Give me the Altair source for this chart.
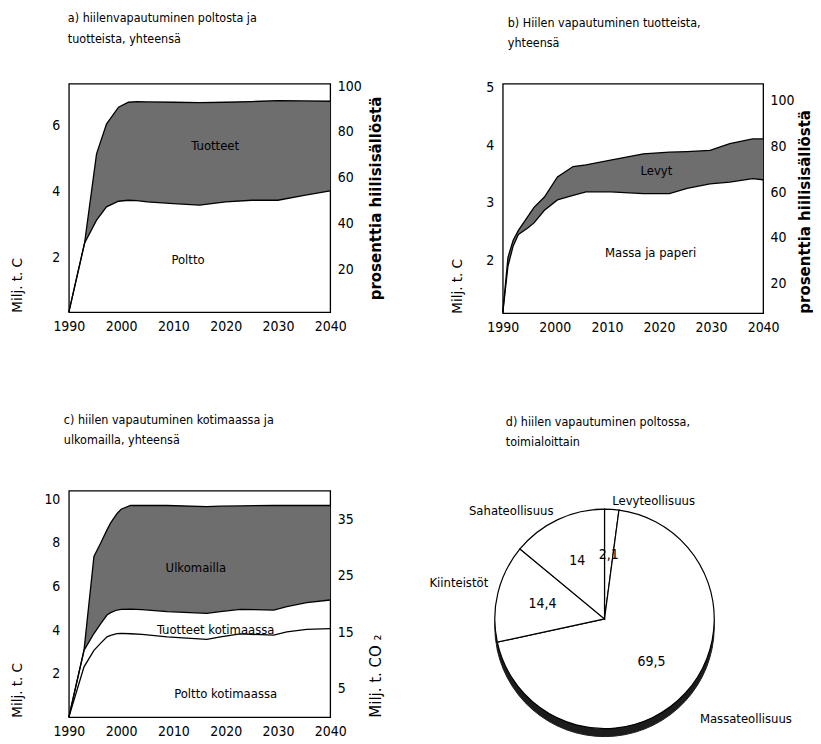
import altair as alt
import pandas as pd

FONT = "DejaVu Sans Condensed, DejaVu Sans, sans-serif"
WIDE = "DejaVu Sans, Verdana, sans-serif"
GRAY = "#6e6e6e"

# ---------------- data ----------------
# a) hiilen vapautuminen poltosta ja tuotteista (Milj. t. C)
a_years = [1990, 1993, 1995.3, 1997.2, 1999.5, 2001.4, 2003, 2005, 2010, 2015, 2020, 2025, 2030, 2035, 2040]
a_poltto = [0.35, 2.43, 3.13, 3.53, 3.70, 3.73, 3.72, 3.68, 3.63, 3.58, 3.68, 3.73, 3.73, 3.88, 4.01]
a_total = [0.35, 2.43, 5.13, 6.03, 6.54, 6.69, 6.71, 6.70, 6.69, 6.68, 6.69, 6.71, 6.74, 6.73, 6.72]

# b) hiilen vapautuminen tuotteista
b_years = [1990, 1991, 1992, 1993, 1994.8, 1996, 1998, 2000.5, 2003.5, 2006, 2010.7, 2017, 2022, 2025.4, 2029.8, 2033.6, 2038, 2040]
b_massa = [1.09, 1.90, 2.25, 2.45, 2.56, 2.65, 2.87, 3.05, 3.13, 3.19, 3.19, 3.16, 3.16, 3.25, 3.33, 3.36, 3.42, 3.40]
b_total = [1.09, 2.05, 2.35, 2.52, 2.76, 2.92, 3.10, 3.45, 3.63, 3.66, 3.74, 3.85, 3.88, 3.89, 3.91, 4.03, 4.11, 4.11]

# c) kotimaassa ja ulkomailla
c_years = [1990, 1992.9, 1994.8, 1996.1, 1997.3, 1998, 1999.2, 2000, 2001.8, 2004, 2008.8, 2016.4, 2019, 2022.8, 2029.2, 2031.7, 2035.5, 2040]
c_poltto = [0, 2.31, 3.07, 3.40, 3.69, 3.76, 3.84, 3.85, 3.83, 3.80, 3.69, 3.57, 3.69, 3.82, 3.77, 3.92, 4.03, 4.07]
c_tuotteet = [0, 3.07, 3.84, 4.30, 4.69, 4.80, 4.92, 4.95, 4.96, 4.94, 4.85, 4.77, 4.85, 4.95, 4.92, 5.08, 5.26, 5.38]
c_total = [0, 3.07, 7.38, 8.00, 8.60, 8.92, 9.35, 9.55, 9.72, 9.73, 9.72, 9.67, 9.69, 9.70, 9.73, 9.72, 9.72, 9.72]

# d) poltto toimialoittain (%)
sectors = ["Levyteollisuus", "Massateollisuus", "Kiinteistöt", "Sahateollisuus"]
shares = [2.1, 69.5, 14.4, 14.0]
share_labels = ["2,1", "69,5", "14,4", "14"]

year_ticks = [1990, 2000, 2010, 2020, 2030, 2040]

df_a = pd.DataFrame({"year": a_years, "lower": a_poltto, "upper": a_total})
df_b = pd.DataFrame({"year": b_years, "lower": b_massa, "upper": b_total})
df_c = pd.DataFrame({"year": c_years, "lower": c_poltto, "mid": c_tuotteet, "upper": c_total})
df_d = pd.DataFrame({"sector": sectors, "share": shares, "label": share_labels,
                     "order": list(range(len(sectors)))})

TFS = 12.5


def panel_title(line1, line2, indent, dx, offset):
    return alt.TitleParams(
        text=line1, subtitle="\u00a0" * indent + line2, anchor="start", frame="group",
        font=FONT, fontSize=TFS, fontWeight="normal", color="black",
        subtitleFont=FONT, subtitleFontSize=TFS, subtitleColor="black",
        subtitlePadding=8, dx=dx, offset=offset)


def area_panel(df, left_dom, left_ticks, left_pad, right_dom, right_ticks, right_title,
               right_pad, right_bold, right_anchor, w, h, title, notes, mid=False):
    xs = alt.Scale(domain=[1990, 2040], nice=False, zero=False)
    xa = alt.Axis(values=year_ticks, format="d", title=None, labelPadding=7, labelFlush=False)
    ls = alt.Scale(domain=left_dom, nice=False, zero=False)
    la = alt.Axis(values=left_ticks, title="Milj. t. C", titleFont=WIDE,
                  titleFontSize=13.5, titleFontWeight="normal",
                  titleAnchor="start", titlePadding=left_pad, labelPadding=9)
    base = alt.Chart(df).encode(x=alt.X("year:Q", scale=xs, axis=xa))
    area = base.mark_area(color=GRAY, opacity=1).encode(
        y=alt.Y("mid:Q" if mid else "lower:Q", scale=ls, axis=la),
        y2="upper:Q")
    layers = [area]
    cols = ["lower", "upper"] + (["mid"] if mid else [])
    for c in cols:
        layers.append(base.mark_line(color="black", strokeWidth=1.3).encode(
            y=alt.Y(f"{c}:Q", scale=ls, axis=la)))
    for txt, yr, val in notes:
        layers.append(alt.Chart(pd.DataFrame({"note": [txt]})).mark_text(
            font=FONT, fontSize=13, color="black").encode(
            x=alt.XDatum(yr, scale=xs, axis=xa),
            y=alt.YDatum(val, scale=ls, axis=la),
            text="note:N"))
    inner = alt.layer(*layers)
    right = base.mark_point(opacity=0).encode(
        y=alt.Y("upper:Q", scale=alt.Scale(domain=right_dom, nice=False, zero=False),
                axis=alt.Axis(orient="right", values=right_ticks, title=right_title,
                              titleFont=WIDE,
                              titleFontSize=15,
                              titleFontWeight="bold" if right_bold else "normal",
                              titleAngle=270, titleAnchor=right_anchor,
                              titlePadding=right_pad, labelPadding=7)))
    return alt.layer(inner, right).resolve_scale(y="independent").properties(
        width=w, height=h, title=title)


pa = area_panel(df_a, [0.35, 7.25], [2, 4, 6], 27, [1.5, 101], [20, 40, 60, 80, 100],
                "prosenttia hiilisisällöstä", 22, True, "middle", 262, 229,
                panel_title("a) hiilenvapautuminen poltosta ja", "tuotteista, yhteensä", 4, -1, 34),
                [("Tuotteet", 2018, 5.38), ("Poltto", 2012.8, 1.92)])

pb = area_panel(df_b, [1.08, 5.07], [2, 3, 4, 5], 21, [6.9, 107.5], [20, 40, 60, 80, 100],
                "prosenttia hiilisisällöstä", 18, True, "start", 261, 230,
                panel_title("b) Hiilen vapautuminen  tuotteista,", "yhteensä", 3, 5, 31),
                [("Levyt", 2019.5, 3.56), ("Massa ja paperi", 2018.4, 2.13)])

pc = area_panel(df_c, [0, 10.4], [2, 4, 6, 8, 10], 19, [0, 40], [5, 15, 25, 35],
                "Milj. t. CO ₂", 30, False, "start", 262, 227,
                panel_title("c) hiilen vapautuminen kotimaassa ja", "ulkomailla, yhteensä", 4, -5, 44),
                [("Ulkomailla", 2014.3, 6.84), ("Tuotteet kotimaassa", 2018.1, 4.0),
                 ("Poltto kotimaassa", 2020, 1.08)], mid=True)

# ---------------- pie ----------------
R = 110
YOFF = 15
tscale = alt.Scale(domain=[0, 100])
pbase = alt.Chart(df_d).encode(theta=alt.Theta("share:Q", stack=True, scale=tscale),
                               order=alt.Order("order:Q"))
shadow = pbase.mark_arc(outerRadius=R, yOffset=YOFF + 8, color="#1c1c1c", stroke="#1c1c1c")
pie = pbase.mark_arc(outerRadius=R, yOffset=YOFF, fill="white", stroke="black", strokeWidth=1.2)
nums = pbase.mark_text(radius=64, yOffset=YOFF, font=FONT, fontSize=14,
                       color="black").encode(text="label:N")
name_style = {
    "Levyteollisuus": dict(radius=118, align="left", dy=0),
    "Massateollisuus": dict(radius=130, align="left", dy=12),
    "Kiinteistöt": dict(radius=120, align="right", dy=-8),
    "Sahateollisuus": dict(radius=120, align="right", dy=0),
}
name_layers = []
for s in sectors:
    st = name_style[s]
    name_layers.append(
        alt.Chart(df_d)
        .transform_window(cum="sum(share)", sort=[alt.SortField("order")])
        .transform_calculate(mid="datum.cum - datum.share / 2")
        .transform_filter(alt.datum.sector == s)
        .mark_text(font=FONT, fontSize=13, color="black", yOffset=YOFF, **st)
        .encode(theta=alt.Theta("mid:Q", scale=tscale, stack=None), text="sector:N"))

pd_chart = alt.layer(shadow, pie, nums, *name_layers).properties(
    width=340, height=227,
    title=panel_title("d) hiilen vapautuminen poltossa,", "toimialoittain", 3, 71, 42),
    view=alt.ViewBackground(strokeOpacity=0))

row1 = alt.hconcat(pa, pb, spacing=66)
row2 = alt.hconcat(pc, pd_chart, spacing=45)
chart = alt.vconcat(row1, row2, spacing=78).properties(
    padding={"left": 2, "top": 2, "right": 0, "bottom": 0},
    background="white"
).configure_view(stroke="black", strokeWidth=1.3).configure_axis(
    domain=False, ticks=False, grid=False, labelFont=FONT, labelFontSize=14,
    labelColor="black", titleColor="black")

chart.save("out.html", embed_options={"renderer": "svg", "actions": False})
